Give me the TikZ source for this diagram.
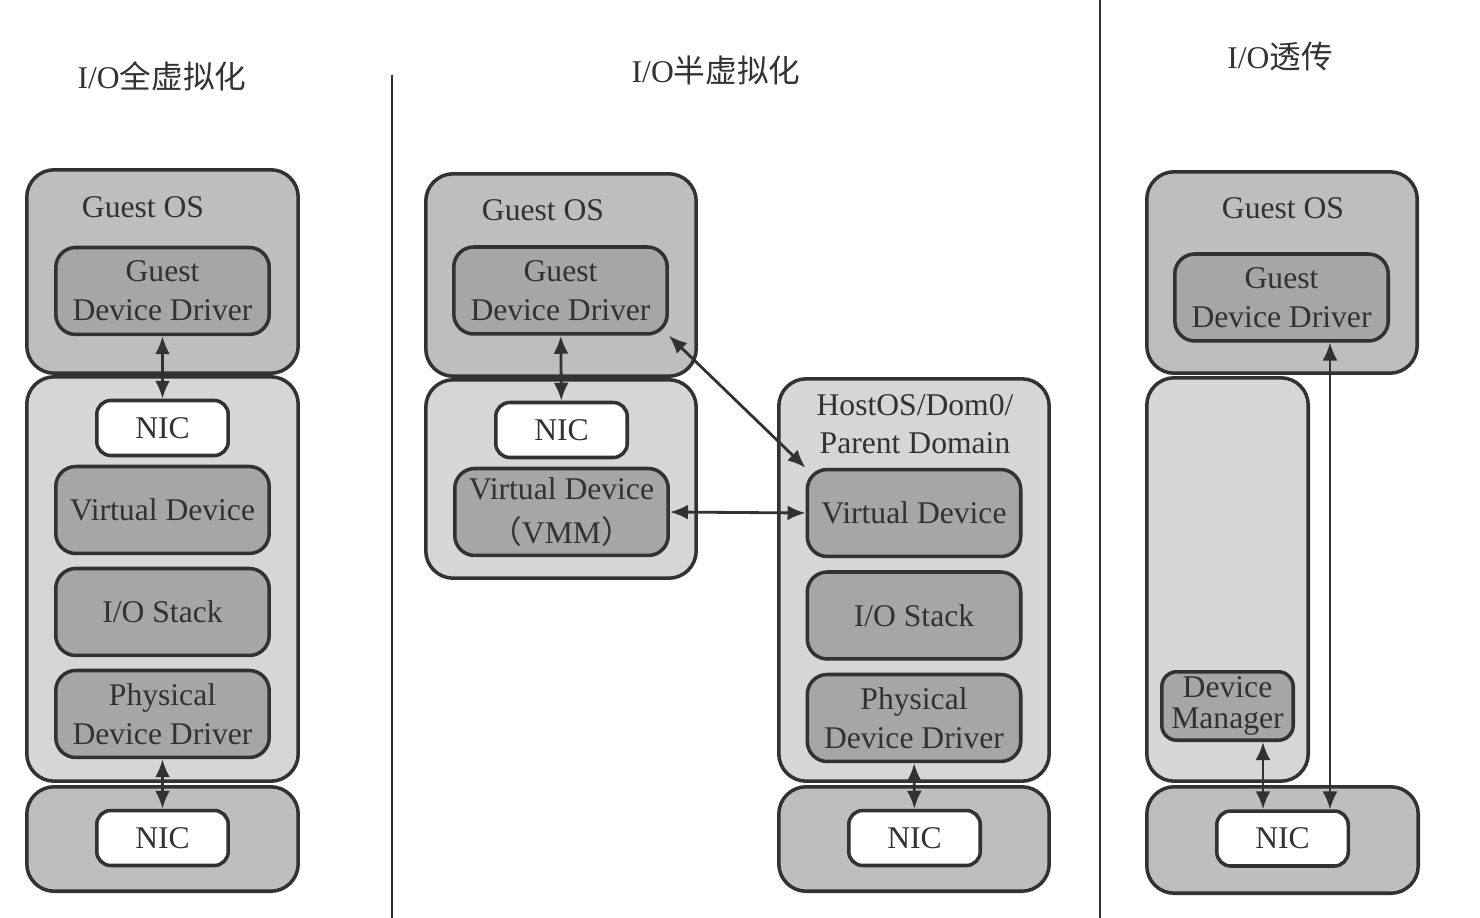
\documentclass[tikz,border=0pt]{standalone}
\usepackage{fontspec}
\setmainfont{Liberation Serif}
\newfontfamily\cjk{Noto Sans CJK SC}
\usepackage{xcolor}
\usetikzlibrary{positioning,arrows.meta}
\definecolor{osgray}{RGB}{190,190,190}
\definecolor{layergray}{RGB}{166,166,166}
\definecolor{hostgray}{RGB}{214,214,214}
\definecolor{linegray}{RGB}{50,50,50}
\tikzset{
  osbox/.style={draw=linegray, line width=2pt, fill=osgray, rounded corners=0.55cm, inner sep=0pt},
  midbox/.style={osbox, fill=hostgray},
  layer/.style={draw=linegray, line width=2pt, fill=layergray, rounded corners=0.4cm,
    minimum width=4.27cm, minimum height=1.74cm, inner sep=0pt, align=center},
  nicbox/.style={layer, fill=white, minimum width=2.63cm, minimum height=1.1cm, rounded corners=0.28cm},
  link/.style={<->, line width=1.6pt, draw=linegray, >={Latex[length=0.36cm,width=0.3cm]}},
  divider/.style={line width=1.6pt, draw=linegray},
}

\begin{document}
\begin{tikzpicture}[x=0.02cm, y=-0.02cm, font=\fontsize{18}{22}\selectfont, text=linegray]
\useasboundingbox (0,0) rectangle (1480,918);

% dividers
\draw[divider] (392,75) -- (392,918);
\draw[divider] (1100,0) -- (1100,918);

% titles
\node (title1) at (162,76) {I/O{\cjk 全虚拟化}};
\node (title2) at (716,70) {I/O{\cjk 半虚拟化}};
\node (title3) at (1280,57) {I/O{\cjk 透传}};

% full virtualization
\node[osbox, minimum width=5.43cm, minimum height=4.07cm] (guest1) at (162.5,271.5) {};
\node[midbox, minimum width=5.43cm, minimum height=8.09cm] (mid1) at (162.5,579) {};
\node[osbox, minimum width=5.43cm, minimum height=2.09cm] (bot1) at (162.5,839) {};
\node (gos1) at (143,207) {Guest OS};
\node[layer] (gdd1) at (162.5,291) {Guest\\Device Driver};
\node[nicbox] (nic1) at (162.5,428) {NIC};
\node[layer, below=0.15cm of nic1] (vd1) {Virtual Device};
\node[layer, below=0.23cm of vd1] (ios1) {I/O Stack};
\node[layer, below=0.23cm of ios1] (pdd1) {Physical\\Device Driver};
\node[nicbox] (nicb1) at (162.5,838) {NIC};
\draw[link] (gdd1) -- (nic1);
\draw[link] (pdd1) -- (nicb1);

% para virtualization
\node[osbox, minimum width=5.41cm, minimum height=4.05cm] (guest2) at (561,275) {};
\node[midbox, minimum width=5.41cm, minimum height=3.97cm] (mid2) at (561,479) {};
\node (gos2) at (543,210) {Guest OS};
\node[layer] (gdd2) at (560.5,290.5) {Guest\\Device Driver};
\node[nicbox] (nic2) at (561.5,430) {NIC};
\node[layer, below=0.15cm of nic2, font=\fontsize{18}{25}\selectfont] (vmm2) {Virtual Device\\{\cjk （}VMM{\cjk ）}};
\node[midbox, minimum width=5.41cm, minimum height=8.05cm] (host2) at (914,580) {};
\node[osbox, minimum width=5.41cm, minimum height=2.09cm] (bot2) at (914,839) {};
\node[align=center] (hostlbl) at (915,424) {HostOS/Dom0/\\Parent Domain};
\node[layer] (vd2) at (914,513) {Virtual Device};
\node[layer, below=0.24cm of vd2] (ios2) {I/O Stack};
\node[layer, below=0.24cm of ios2] (pdd2) {Physical\\Device Driver};
\node[nicbox] (nicb2) at (914.5,838) {NIC};
\draw[link] (gdd2) -- (nic2);
\draw[link] (gdd2.south east) -- (vd2.north west);
\draw[link] (vmm2.east) -- (vd2.west);
\draw[link] (pdd2) -- (nicb2);

% passthrough
\node[osbox, minimum width=5.41cm, minimum height=4.03cm] (guest3) at (1282,272.5) {};
\node[midbox, minimum width=3.23cm, minimum height=8.07cm] (mid3) at (1227.5,579.5) {};
\node[osbox, minimum width=5.43cm, minimum height=2.13cm] (bot3) at (1282.5,840) {};
\node (gos3) at (1283,208) {Guest OS};
\node[layer] (gdd3) at (1281.5,297.5) {Guest\\Device Driver};
\node[layer, minimum width=2.63cm, minimum height=1.37cm, rounded corners=0.3cm,
  font=\fontsize{18}{18}\selectfont] (dm3) at (1227.5,706) {Device\\Manager};
\node[nicbox] (nicb3) at (1282.5,838.5) {NIC};
\draw[link] ([xshift=0.71cm]dm3.south) -- ([xshift=0.71cm]dm3.south |- nicb3.north);
\draw[link, line width=1pt] ([xshift=0.97cm]gdd3.south) -- ([xshift=0.97cm]gdd3.south |- nicb3.north);
\end{tikzpicture}
\end{document}
